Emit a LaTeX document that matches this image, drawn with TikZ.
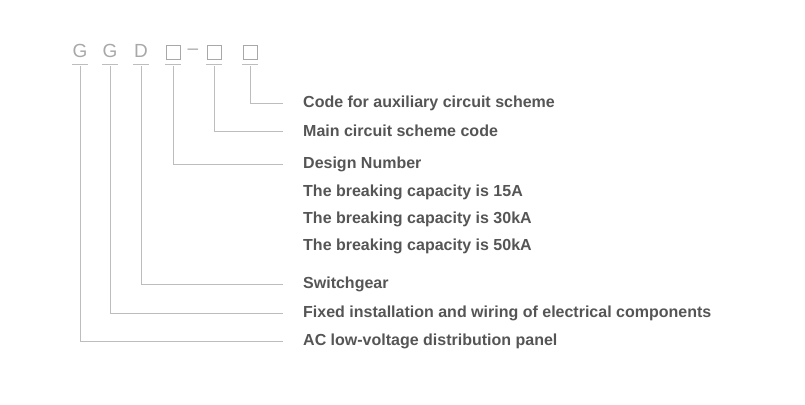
\documentclass[tikz,border=0pt]{standalone}
\usepackage{fontspec}
\setmainfont{Liberation Sans}
\definecolor{linegray}{HTML}{BDBDBD}
\definecolor{textgray}{HTML}{555555}
\definecolor{codegray}{HTML}{A8A8A8}
\begin{document}
\begin{tikzpicture}[x=1pt,y=-1pt,
  code/.style={text=codegray,font=\fontsize{19}{21}\selectfont,inner sep=0pt},
  box/.style={draw=codegray,line width=0.9pt,minimum width=14pt,minimum height=14pt,inner sep=0pt},
  lbl/.style={anchor=west,text=textgray,font=\bfseries\fontsize{16}{19}\selectfont,inner sep=0pt},
  lead/.style={draw=linegray,line width=0.8pt}]
\useasboundingbox (0,0) rectangle (805,404);
\node[code] (g1) at (80,51) {G};
\node[code] (g2) at (110,51) {G};
\node[code] (d) at (141,51) {D};
\node[box] (b1) at (173,52) {};
\node[code] (dash) at (193,52) {–};
\node[box] (b2) at (214,52) {};
\node[box] (b3) at (250,52) {};
\foreach \n/\x in {g1/80,g2/110,d/141,b1/173,b2/214,b3/250}
  \draw[lead] (\x-8,64) -- (\x+8,64);
% labels
\node[lbl] (t1) at (303,103) {Code for auxiliary circuit scheme};
\node[lbl] (t2) at (303,131) {Main circuit scheme code};
\node[lbl] (t3) at (303,164) {Design Number};
\node[lbl] (t4) at (303,192) {The breaking capacity is 15A};
\node[lbl] (t5) at (303,219) {The breaking capacity is 30kA};
\node[lbl] (t6) at (303,246) {The breaking capacity is 50kA};
\node[lbl] (t7) at (303,284) {Switchgear};
\node[lbl] (t8) at (303,313) {Fixed installation and wiring of electrical components};
\node[lbl] (t9) at (303,341) {AC low-voltage distribution panel};
% leaders
\draw[lead] (b3.south |- 0,66) |- ([xshift=-20pt]t1.west);
\draw[lead] (b2.south |- 0,66) |- ([xshift=-20pt]t2.west);
\draw[lead] (b1.south |- 0,66) |- ([xshift=-20pt]t3.west);
\draw[lead] (d.south |- 0,66) |- ([xshift=-20pt]t7.west);
\draw[lead] (g2.south |- 0,66) |- ([xshift=-20pt]t8.west);
\draw[lead] (g1.south |- 0,66) |- ([xshift=-20pt]t9.west);
\end{tikzpicture}
\end{document}
